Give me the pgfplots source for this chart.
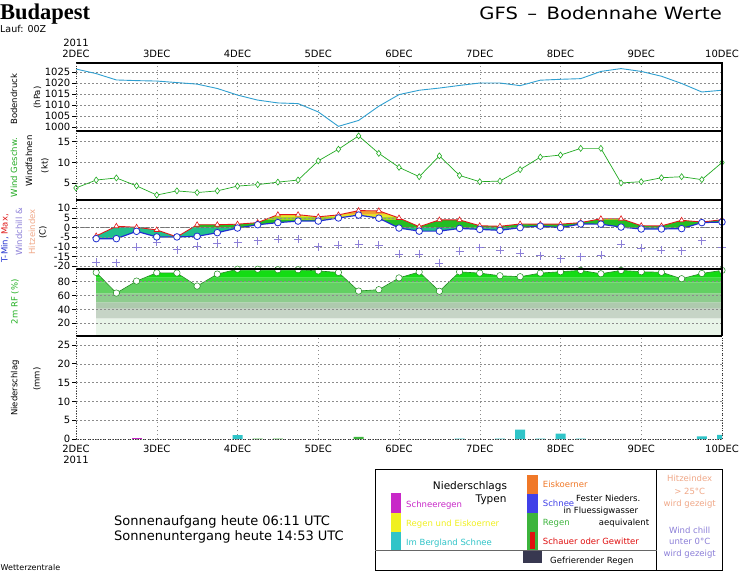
\documentclass[border=0pt]{standalone}
\usepackage{pgfplots}
\pgfplotsset{compat=1.18}
\usepackage{pgfplotstable}
\usepackage{fontspec}
\setmainfont{DejaVu Sans}
\newfontfamily\titlefont{Liberation Serif}

\definecolor{presscol}{HTML}{2F9FD0}
\definecolor{windcol}{HTML}{22AA22}
\definecolor{tmincol}{HTML}{2030D0}
\definecolor{tmaxcol}{HTML}{E01818}
\definecolor{wccol}{HTML}{8C7FD8}
\definecolor{hicol}{HTML}{F0A888}
\definecolor{rhline}{HTML}{1A8A1A}
\definecolor{rhlabel}{HTML}{20B020}
\definecolor{tf1}{HTML}{20C08C}
\definecolor{tf2}{HTML}{22BE22}
\definecolor{tf3}{HTML}{9AD424}
\definecolor{tf4}{HTML}{E6E428}
\definecolor{tf5}{HTML}{F2A030}
\definecolor{rh1}{HTML}{E8F4E8}
\definecolor{rh2}{HTML}{C6D4C6}
\definecolor{rh3}{HTML}{AECAAE}
\definecolor{rh4}{HTML}{8ECC8E}
\definecolor{rh5}{HTML}{62D062}
\definecolor{rh6}{HTML}{3ED63E}
\definecolor{rh7}{HTML}{14DC14}
\definecolor{rh8}{HTML}{00C000}
\definecolor{pmag}{HTML}{C828C8}
\definecolor{pcyan}{HTML}{30C4C8}
\definecolor{pgreen}{HTML}{3CB43C}
\definecolor{pyellow}{HTML}{F0F020}
\definecolor{porange}{HTML}{F07828}
\definecolor{pblue}{HTML}{4040E8}
\definecolor{pred}{HTML}{E01010}
\definecolor{pnavy}{HTML}{383850}
\definecolor{gridc}{HTML}{8C8C8C}

\pgfplotstableread{
d p
0 1026.5
0.25 1024.4
0.5 1021.5
0.75 1021.2
1.0 1021.0
1.25 1020.3
1.5 1019.6
1.75 1017.6
2.0 1014.6
2.25 1012.3
2.5 1011.0
2.75 1010.7
3.0 1006.9
3.25 1000.3
3.5 1003.0
3.75 1009.5
4.0 1014.8
4.25 1016.8
4.5 1017.8
4.75 1019.0
5.0 1020.1
5.25 1020.1
5.5 1018.9
5.75 1021.4
6.0 1021.8
6.25 1022.1
6.5 1025.4
6.75 1026.7
7.0 1025.4
7.25 1023.2
7.5 1019.9
7.75 1016.0
8.0 1016.8
}\presstab

\pgfplotstableread{
d w
0 3.9
0.25 5.8
0.5 6.3
0.75 4.4
1.0 2.2
1.25 3.2
1.5 2.8
1.75 3.2
2.0 4.35
2.25 4.7
2.5 5.3
2.75 5.8
3.0 10.4
3.25 13.2
3.5 16.4
3.75 12.2
4.0 8.85
4.25 6.6
4.5 11.6
4.75 6.9
5.0 5.4
5.25 5.55
5.5 8.3
5.75 11.3
6.0 11.8
6.25 13.4
6.5 13.4
6.75 5.1
7.0 5.4
7.25 6.35
7.5 6.6
7.75 5.9
8.0 10.0
}\windtab

\pgfplotstableread{
d tmin tmax wc
0.25 -5.7 -4.3 -17.8
0.5 -5.7 0.7 -18.1
0.75 -1.9 0.2 -10.2
1.0 -4.8 -1.2 -7.4
1.25 -4.8 -4.8 -11.4
1.5 -4.5 1.5 -9.7
1.75 -2.6 1.5 -8.1
2.0 -0.2 1.8 -7.8
2.25 1.5 2.6 -6.7
2.5 2.6 6.7 -5.9
2.75 3.4 6.7 -5.8
3.0 3.4 5.6 -9.8
3.25 5.0 6.6 -9.2
3.5 6.5 8.8 -8.5
3.75 4.9 8.7 -9.2
4.0 -0.2 5.0 -13.6
4.25 -1.8 0.5 -13.6
4.5 -1.8 4.0 -18.5
4.75 -0.4 4.0 -12.3
5.0 -0.9 1.0 -10.4
5.25 -1.4 0.7 -11.6
5.5 0.0 1.9 -13.3
5.75 0.8 1.8 -14.5
6.0 0.0 1.8 -16.1
6.25 1.9 2.6 -15.0
6.5 1.8 4.6 -14.3
6.75 0.3 4.6 -8.6
7.0 -0.7 1.0 -10.5
7.25 -0.7 0.9 -11.6
7.5 -0.5 3.8 -11.9
7.75 2.6 2.9 -6.7
8.0 2.9 4.1 -10.2
}\temptab

\pgfplotstableread{
d rh
0.25 93.4
0.5 63.6
0.75 80.9
1.0 92.9
1.25 92.5
1.5 73.7
1.75 91.0
2.0 98.0
2.25 98.0
2.5 97.3
2.75 97.3
3.0 95.5
3.25 93.4
3.5 66.5
3.75 68.5
4.0 85.5
4.25 94.0
4.5 66.2
4.75 94.2
5.0 92.4
5.25 88.6
5.5 87.2
5.75 92.4
6.0 94.4
6.25 96.3
6.5 91.5
6.75 96.3
7.0 94.4
7.25 93.6
7.5 84.3
7.75 91.9
8.0 96.3
}\rhtab

\pgfplotstableread{
d r
0.75 0.15
}\precmag
\pgfplotstableread{
d r
2.25 0.12
2.5 0.12
3.5 0.6
}\precgreen
\pgfplotstableread{
d r
2.0 1.05
4.75 0.12
5.25 0.12
5.5 2.5
5.75 0.12
6.0 1.4
6.25 0.12
7.75 0.7
8.0 1.12
}\preccyan

\pgfplotsset{
  /pgf/number format/assume math mode=true,
  /pgf/number format/1000 sep={},
  panel/.style={
    scale only axis, width=646pt, xmin=0, xmax=8,
    anchor=north west,
    axis line style={draw=none},
    tick align=outside, major tick length=4pt,
    ytick style={black, line width=0.6pt},
    xtick style={draw=none},
    ytick pos=left,
    ymajorgrids,
    grid style={gridc, line width=0.5pt, dash pattern=on 1.5pt off 2.5pt},
    yticklabel style={font=\fontsize{10}{10}\selectfont, inner sep=1.5pt},
    xticklabel style={font=\fontsize{10}{11}\selectfont, align=center, inner sep=1.5pt},
  },
  band/.style={draw=none, fill=#1, forget plot},
}

\begin{document}
\begin{tikzpicture}
\fill[white] (0,0) rectangle (741pt,-573pt);

% ---------- Panel 1: pressure
\begin{axis}[panel, at={(76pt,-63pt)}, height=68pt,
  ymin=998.17, ymax=1029.25, ytick={1000,1005,...,1025},
  xtick={0,...,8},
  xticklabels={{2011\\2DEC},3DEC,4DEC,5DEC,6DEC,7DEC,8DEC,9DEC,10DEC},
  xticklabel pos=right, xmajorgrids]
\addplot[presscol, line width=0.9pt] table[x=d, y=p] {\presstab};
\end{axis}

% ---------- Panel 2: wind
\begin{axis}[panel, at={(76pt,-131pt)}, height=69pt,
  ymin=1.01, ymax=17.57, ytick={5,10,15}, xtick=\empty]
\addplot[windcol, line width=0.7pt, mark=diamond*, mark size=3pt,
  mark options={fill=white, draw=windcol, line width=0.6pt}] table[x=d, y=w] {\windtab};
\end{axis}

% ---------- Panel 3: temperature
\begin{axis}[panel, at={(76pt,-200pt)}, height=69pt, axis on top,
  ymin=-21.4, ymax=14.3, ytick={-20,-15,...,10}, xtick=\empty,
  extra y ticks={0}, extra y tick labels={},
  extra y tick style={grid style={black!55, line width=0.6pt, dash pattern=on 3pt off 2pt}}]
\addplot[band=tf1] coordinates {(0.25,-25) (8,-25) (8,0) (0.25,0) (0.25,-25)};
\addplot[band=tf2] coordinates {(0.25,0) (8,0) (8,4) (0.25,4) (0.25,0)};
\addplot[band=tf3] coordinates {(0.25,4) (8,4) (8,5.5) (0.25,5.5) (0.25,4)};
\addplot[band=tf4] coordinates {(0.25,5.5) (8,5.5) (8,7) (0.25,7) (0.25,5.5)};
\addplot[band=tf5] coordinates {(0.25,7) (8,7) (8,20) (0.25,20) (0.25,7)};
\addplot[band=white] table[x=d, y=tmax] {\temptab} -- (axis cs:8,20) -- (axis cs:0.25,20) -- cycle;
\addplot[band=white] table[x=d, y=tmin] {\temptab} -- (axis cs:8,-25) -- (axis cs:0.25,-25) -- cycle;
\addplot[only marks, mark=+, mark size=4pt, wccol, line width=0.7pt] table[x=d, y=wc] {\temptab};
\addplot[tmaxcol, line width=0.9pt, mark=triangle*, mark size=3pt,
  mark options={fill=white, draw=tmaxcol, line width=0.6pt}] table[x=d, y=tmax] {\temptab};
\addplot[tmincol, line width=1.2pt, mark=*, mark size=3.3pt,
  mark options={fill=white, draw=tmincol, line width=0.8pt}] table[x=d, y=tmin] {\temptab};
\end{axis}

% ---------- Panel 4: relative humidity
\begin{axis}[panel, at={(76pt,-269pt)}, height=67pt, axis on top,
  ymin=1.6, ymax=98.3, ytick={20,40,60,80}, xtick=\empty]
\addplot[band=rh1] coordinates {(0.25,0) (8,0) (8,27) (0.25,27) (0.25,0)};
\addplot[band=rh2] coordinates {(0.25,27) (8,27) (8,42) (0.25,42) (0.25,27)};
\addplot[band=rh3] coordinates {(0.25,42) (8,42) (8,50) (0.25,50) (0.25,42)};
\addplot[band=rh4] coordinates {(0.25,50) (8,50) (8,63) (0.25,63) (0.25,50)};
\addplot[band=rh5] coordinates {(0.25,63) (8,63) (8,79) (0.25,79) (0.25,63)};
\addplot[band=rh6] coordinates {(0.25,79) (8,79) (8,86) (0.25,86) (0.25,79)};
\addplot[band=rh7] coordinates {(0.25,86) (8,86) (8,96) (0.25,96) (0.25,86)};
\addplot[band=rh8] coordinates {(0.25,96) (8,96) (8,110) (0.25,110) (0.25,96)};
\addplot[band=white] table[x=d, y=rh] {\rhtab} -- (axis cs:8,110) -- (axis cs:0.25,110) -- cycle;
\addplot[rhline, line width=0.6pt, mark=*, mark size=3.2pt,
  mark options={fill=white, draw=rhline, line width=0.5pt}] table[x=d, y=rh] {\rhtab};
\end{axis}

% ---------- Panel 5: precipitation
\begin{axis}[panel, at={(76pt,-336pt)}, height=103pt,
  ymin=0, ymax=27.39, ytick={0,5,...,25},
  xtick={0,...,8},
  xticklabels={{2DEC\\2011},3DEC,4DEC,5DEC,6DEC,7DEC,8DEC,9DEC,10DEC},
  xticklabel pos=left, xmajorgrids]
\addplot[ybar, bar width=10pt, bar shift=0pt, fill=pmag, draw=none] table[x=d, y=r] {\precmag};
\addplot[ybar, bar width=10pt, bar shift=0pt, fill=pgreen, draw=none] table[x=d, y=r] {\precgreen};
\addplot[ybar, bar width=10pt, bar shift=0pt, fill=pcyan, draw=none] table[x=d, y=r] {\preccyan};
\end{axis}

% ---------- frames
\draw[black, line width=1.1pt] (76pt,-63pt) -- (722pt,-63pt) -- (722pt,-336pt);
\foreach \yy in {131,200,269,336} \draw[black, line width=1.1pt] (76pt,-\yy pt) -- (722pt,-\yy pt);
\draw[black!80, line width=0.7pt, dash pattern=on 1pt off 1.5pt] (76pt,-63pt) -- (76pt,-439pt) -- (722pt,-439pt) -- (722pt,-336pt);

% ---------- titles
\node[anchor=base west, inner sep=0] at (0pt,-19.5pt) {\titlefont\bfseries\fontsize{22.5}{22.5}\selectfont Budapest};
\node[anchor=base west, inner sep=0] at (0pt,-32.7pt) {\fontsize{9.5}{9.5}\selectfont Lauf: 00Z};
\node[anchor=base east, inner sep=0] at (722pt,-19pt) {\scalebox{1.15}[1]{\fontsize{17}{17}\selectfont GFS \,\textendash\, Bodennahe Werte}};

% ---------- y labels
\newcommand\ylab[4]{\node[rotate=90, inner sep=0, anchor=center, text=#3] at (#1pt,-#2pt) {\fontsize{8.5}{8.5}\selectfont #4};}
\ylab{14}{99.3}{black}{Bodendruck}
\ylab{37.5}{97.5}{black}{(hPa)}
\ylab{14}{167.5}{windcol}{Wind Geschw.}
\ylab{29}{161}{black}{Windfahnen}
\ylab{45}{165.7}{black}{(kt)}
\node[rotate=90, inner sep=0, anchor=center] at (5pt,-238.3pt) {\fontsize{8.5}{8.5}\selectfont\textcolor{tmincol}{T-Min,} \textcolor{tmaxcol}{Max,}};
\ylab{19}{232}{wccol}{Windchill \&}
\ylab{32}{232}{hicol}{Hitzeindex}
\ylab{43}{232.7}{black}{(C)}
\ylab{15}{301.7}{rhlabel}{2m RF (\%)}
\ylab{15}{388}{black}{Niederschlag}
\ylab{37}{379}{black}{(mm)}

% ---------- sunrise text
\node[anchor=base west, inner sep=0] at (114pt,-525.7pt) {\fontsize{13}{13}\selectfont Sonnenaufgang heute 06:11 UTC};
\node[anchor=base west, inner sep=0] at (114pt,-540pt) {\fontsize{13}{13}\selectfont Sonnenuntergang heute 14:53 UTC};
\node[anchor=base west, inner sep=0] at (0.5pt,-570.5pt) {\fontsize{8}{8}\selectfont Wetterzentrale};

% ---------- legend box
\draw[black, line width=0.8pt] (375pt,-469.3pt) rectangle (722.7pt,-570pt);
\draw[black, line width=0.8pt] (656.7pt,-469.3pt) -- (656.7pt,-570pt);
\draw[black!60, line width=0.8pt] (375pt,-550pt) -- (656.7pt,-550pt);
\fill[pmag] (390.7pt,-493.3pt) rectangle (400.7pt,-512.7pt);
\fill[pyellow] (390.7pt,-512.7pt) rectangle (400.7pt,-531.7pt);
\fill[pcyan] (390.7pt,-531.7pt) rectangle (400.7pt,-550pt);
\fill[porange] (527.3pt,-475pt) rectangle (537.7pt,-494.3pt);
\fill[pblue] (527.3pt,-494.3pt) rectangle (537.7pt,-513.3pt);
\fill[pgreen] (527.3pt,-513.3pt) rectangle (537.7pt,-550pt);
\fill[pred] (530pt,-531.7pt) rectangle (535pt,-549.3pt);
\fill[pnavy] (522.7pt,-550.7pt) rectangle (541.7pt,-562.7pt);
\newcommand\lt[5]{\node[anchor=base #1, inner sep=0, text=#4] at (#2pt,-#3pt) {\fontsize{8.5}{8.5}\selectfont #5};}
\node[anchor=base, inner sep=0] at (470pt,-489.3pt) {\fontsize{10.5}{10.5}\selectfont Niederschlags};
\node[anchor=base east, inner sep=0] at (506.7pt,-502.7pt) {\fontsize{10.5}{10.5}\selectfont Typen};
\lt{west}{406}{507.3}{pmag}{Schneeregen}
\lt{west}{406}{526}{pyellow}{Regen und Eiskoerner}
\lt{west}{406}{545}{pcyan}{Im Bergland Schnee}
\lt{west}{542.7}{487.7}{porange}{Eiskoerner}
\lt{west}{542.7}{506.7}{pblue}{Schnee}
\lt{west}{542.7}{525}{pgreen}{Regen}
\lt{west}{542.7}{544}{pred}{Schauer oder Gewitter}
\lt{west}{576}{501.7}{black}{Fester Nieders.}
\lt{west}{563.3}{513.3}{black}{in Fluessigwasser}
\lt{east}{649.3}{525}{black}{aequivalent}
\lt{west}{550}{563.3}{black}{Gefrierender Regen}
\lt{}{689.7}{481.7}{hicol}{Hitzeindex}
\lt{}{689.7}{494.3}{hicol}{> 25°C}
\lt{}{689.7}{506}{hicol}{wird gezeigt}
\lt{}{689.7}{533}{wccol}{Wind chill}
\lt{}{689.7}{544.7}{wccol}{unter 0°C}
\lt{}{689.7}{556}{wccol}{wird gezeigt}

\pgfresetboundingbox
\path[use as bounding box] (0,0) rectangle (741pt,-573pt);
\end{tikzpicture}
\end{document}
